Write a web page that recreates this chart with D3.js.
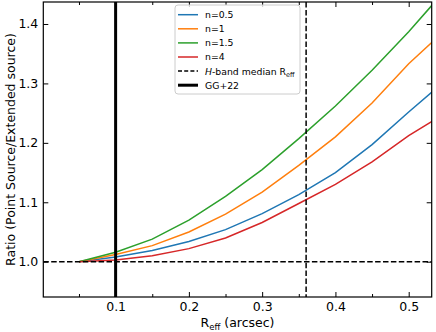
<!DOCTYPE html>
<html>
<head>
<meta charset="utf-8">
<script src="https://cdn.jsdelivr.net/npm/d3@7"></script>
<style>
  body { margin: 0; background: #fff; }
  svg { display: block; font-family: "DejaVu Sans", sans-serif; }
</style>
</head>
<body>
<svg id="chart" width="436" height="332"></svg>
<script>
// R_eff grid (arcsec)
var reff = [0.05, 0.1, 0.15, 0.2, 0.25, 0.3, 0.35, 0.4, 0.45, 0.5, 0.55];
// ratio point source / extended source for each Sersic index
var n05 = [1.0, 1.008, 1.019, 1.034, 1.054, 1.081, 1.113, 1.150, 1.197, 1.252, 1.305];
var n1  = [1.0, 1.012, 1.027, 1.050, 1.080, 1.117, 1.162, 1.210, 1.267, 1.333, 1.390];
var n15 = [1.0, 1.016, 1.038, 1.070, 1.110, 1.155, 1.207, 1.262, 1.322, 1.387, 1.457];
var n4  = [1.0, 1.003, 1.010, 1.022, 1.040, 1.066, 1.098, 1.130, 1.168, 1.212, 1.250];
var seriesNames = ["n=0.5", "n=1", "n=1.5", "n=4"];
var colors = ["#1f77b4", "#ff7f0e", "#2ca02c", "#d62728"];
var medianReff = 0.36;
var ggReff = 0.1;
var xTicks = [0.1, 0.2, 0.3, 0.4, 0.5];
var xMinor = [0.05, 0.15, 0.25, 0.35, 0.45];
var yTicks = [1.0, 1.1, 1.2, 1.3, 1.4];

function dibujar() {
    var svg = d3.select("#chart"),
        mLeft = 43.3, mRight = 431.7, mTop = 2, mBottom = 297;

    var x = d3.scaleLinear().domain([0.0013, 0.5314]).range([mLeft, mRight]);
    var y = d3.scaleLinear().domain([0.9406, 1.437]).range([mBottom, mTop]);

    svg.append("clipPath").attr("id", "clip")
       .append("rect")
       .attr("x", mLeft).attr("y", mTop)
       .attr("width", mRight - mLeft).attr("height", mBottom - mTop);

    var plot = svg.append("g").attr("clip-path", "url(#clip)");

    var allSeries = [n05, n1, n15, n4];
    var line = d3.line()
        .x(function(d, i) { return x(reff[i]); })
        .y(function(d) { return y(d); });

    allSeries.forEach(function(s, k) {
        plot.append("path")
            .datum(s)
            .attr("fill", "none")
            .attr("stroke", colors[k])
            .attr("stroke-width", 1.5)
            .attr("d", line);
    });

    // reference lines
    plot.append("line")
        .attr("x1", mLeft).attr("x2", mRight)
        .attr("y1", y(1.0)).attr("y2", y(1.0))
        .attr("stroke", "black").attr("stroke-width", 1.5)
        .attr("stroke-dasharray", "5.5,2.4");

    plot.append("line")
        .attr("x1", x(medianReff)).attr("x2", x(medianReff))
        .attr("y1", mTop).attr("y2", mBottom)
        .attr("stroke", "black").attr("stroke-width", 1.5)
        .attr("stroke-dasharray", "5.5,2.4");

    plot.append("line")
        .attr("x1", x(ggReff)).attr("x2", x(ggReff))
        .attr("y1", mTop).attr("y2", mBottom)
        .attr("stroke", "black").attr("stroke-width", 3);

    // axes (ticks pointing inwards, on all sides)
    var fmt = d3.format(".1f");

    function styleAxis(g) {
        g.select(".domain").remove();
        g.selectAll(".tick line").attr("stroke", "black").attr("stroke-width", 1);
        g.selectAll(".tick text").attr("fill", "black").attr("font-size", "12.5px")
         .attr("font-family", "DejaVu Sans");
    }

    svg.append("g")
       .attr("transform", "translate(0," + mBottom + ")")
       .call(d3.axisBottom(x).tickValues(xTicks).tickFormat(fmt).tickSize(-5).tickPadding(5))
       .call(styleAxis);

    svg.append("g")
       .attr("transform", "translate(0," + mBottom + ")")
       .call(d3.axisBottom(x).tickValues(xMinor).tickFormat("").tickSize(-3))
       .call(styleAxis);

    svg.append("g")
       .attr("transform", "translate(0," + mTop + ")")
       .call(d3.axisTop(x).tickValues(xTicks).tickFormat("").tickSize(-5))
       .call(styleAxis);

    svg.append("g")
       .attr("transform", "translate(0," + mTop + ")")
       .call(d3.axisTop(x).tickValues(xMinor).tickFormat("").tickSize(-3))
       .call(styleAxis);

    svg.append("g")
       .attr("transform", "translate(" + mLeft + ",0)")
       .call(d3.axisLeft(y).tickValues(yTicks).tickFormat(fmt).tickSize(-5).tickPadding(5))
       .call(styleAxis);

    svg.append("g")
       .attr("transform", "translate(" + mRight + ",0)")
       .call(d3.axisRight(y).tickValues(yTicks).tickFormat("").tickSize(-5))
       .call(styleAxis);

    // frame
    svg.append("rect")
       .attr("x", mLeft).attr("y", mTop)
       .attr("width", mRight - mLeft).attr("height", mBottom - mTop)
       .attr("fill", "none").attr("stroke", "black").attr("stroke-width", 1.2);

    // axis labels
    var xl = svg.append("text")
       .attr("x", (mLeft + mRight) / 2).attr("y", 327)
       .attr("text-anchor", "middle").attr("font-size", "12.5px");
    xl.append("tspan").text("R");
    xl.append("tspan").attr("font-size", "8.5px").attr("dy", 2.5).text("eff");
    xl.append("tspan").attr("dy", -2.5).text(" (arcsec)");

    svg.append("text")
       .attr("transform", "translate(14.5," + ((mTop + mBottom) / 2) + ") rotate(-90)")
       .attr("text-anchor", "middle").attr("font-size", "12.5px")
       .text("Ratio (Point Source/Extended source)");

    // legend
    var lg = svg.append("g").attr("transform", "translate(175,5)");
    lg.append("rect")
      .attr("width", 125).attr("height", 89)
      .attr("rx", 3).attr("ry", 3)
      .attr("fill", "white").attr("fill-opacity", 0.8)
      .attr("stroke", "#cccccc").attr("stroke-width", 1);

    var rowH = 14.1, row0 = 9.7;
    var entries = seriesNames.map(function(n, k) {
        return { label: n, color: colors[k], dash: null, width: 1.5 };
    });
    entries.push({ label: "median", color: "black", dash: "4,2.2", width: 1.5 });
    entries.push({ label: "GG+22", color: "black", dash: null, width: 3 });

    entries.forEach(function(e, i) {
        var yy = row0 + i * rowH;
        lg.append("line")
          .attr("x1", 3).attr("x2", 23)
          .attr("y1", yy).attr("y2", yy)
          .attr("stroke", e.color).attr("stroke-width", e.width)
          .attr("stroke-dasharray", e.dash);
        var t = lg.append("text")
          .attr("x", 30).attr("y", yy + 3.4)
          .attr("font-size", "9.3px");
        if (e.label === "median") {
            t.append("tspan").attr("font-style", "italic").text("H");
            t.append("tspan").text("-band median R");
            t.append("tspan").attr("font-size", "6.5px").attr("dy", 2).text("eff");
        } else {
            t.text(e.label);
        }
    });
}

dibujar();
</script>
</body>
</html>
